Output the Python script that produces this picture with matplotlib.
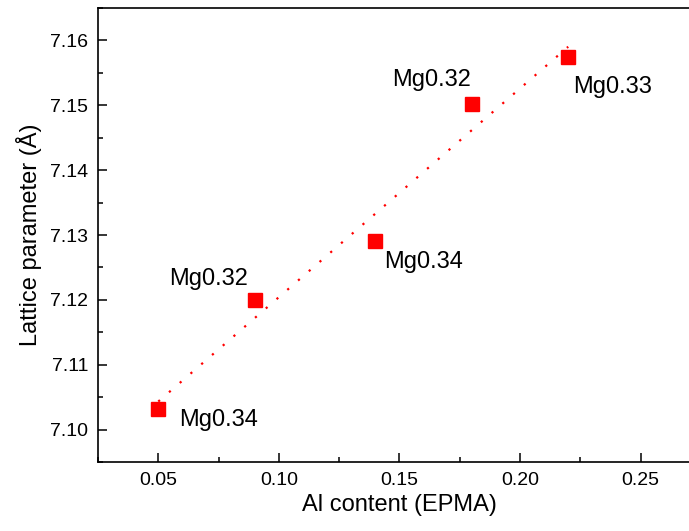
import numpy as np
import matplotlib
matplotlib.use("Agg")
import matplotlib.pyplot as plt
from matplotlib.ticker import MultipleLocator

plt.rcParams['font.family'] = ['Liberation Sans', 'DejaVu Sans']

# data
al_content = [0.05, 0.09, 0.14, 0.18, 0.22]
lattice    = [7.1032, 7.1200, 7.1291, 7.1502, 7.1575]
mg_labels  = ["Mg0.34", "Mg0.32", "Mg0.34", "Mg0.32", "Mg0.33"]

# label placement (pixels offset from point, horizontal alignment)
label_offsets = [(21, -17, "left"), (-7, 15, "right"), (9, -27, "left"),
                 (-1, 18, "right"), (5, -36, "left")]

fig = plt.figure(figsize=(6.89, 5.31), dpi=100)
ax = fig.add_axes([0.1422, 0.1299, 0.875, 0.8550])

# linear fit, dotted
k, b = np.polyfit(al_content, lattice, 1)
xf = np.array([min(al_content), max(al_content)])
ax.plot(xf, k * xf + b, color="red", lw=1.6, ls=(0, (1, 5.4)), zorder=2)

ax.plot(al_content, lattice, ls="none", marker="s", ms=9.4,
        color="red", mec="red", zorder=3)

for x, y, lab, (dx, dy, ha) in zip(al_content, lattice, mg_labels, label_offsets):
    ax.annotate(lab, (x, y), xytext=(dx, dy), textcoords="offset pixels",
                ha=ha, va="baseline", fontsize=17)

ax.set_xlim(0.025, 0.275)
ax.set_ylim(7.095, 7.165)
ax.xaxis.set_major_locator(MultipleLocator(0.05))
ax.xaxis.set_minor_locator(MultipleLocator(0.025))
ax.yaxis.set_major_locator(MultipleLocator(0.01))
ax.yaxis.set_minor_locator(MultipleLocator(0.005))
ax.xaxis.set_major_formatter(plt.FuncFormatter(lambda v, p: f"{v:.2f}"))
ax.yaxis.set_major_formatter(plt.FuncFormatter(lambda v, p: f"{v:.2f}"))

ax.tick_params(which="both", direction="in", width=1.1, labelsize=14,
               top=False, right=False)
ax.tick_params(which="major", length=6.5)
ax.tick_params(which="minor", length=3.5)
ax.tick_params(axis="x", pad=7)
ax.tick_params(axis="y", pad=7)

for s in ("left", "bottom", "top"):
    ax.spines[s].set_linewidth(1.2)
ax.spines["right"].set_visible(False)

ax.set_xlabel("Al content (EPMA)", fontsize=17, labelpad=4)
ax.set_ylabel("Lattice parameter (Å)", fontsize=17, labelpad=6)

fig.savefig("out.png", dpi=100, facecolor="white")
